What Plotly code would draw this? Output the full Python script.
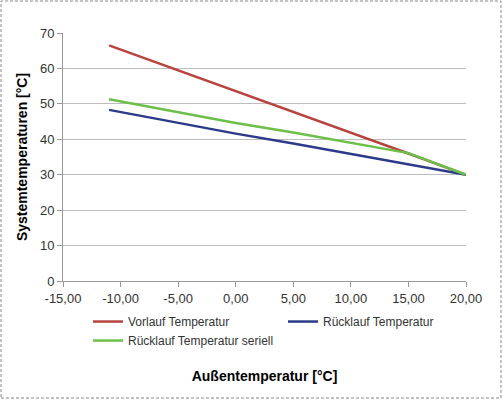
import plotly.graph_objects as go

aussen = [-11, -5, 0, 5, 10, 15, 20]
vorlauf = [66.5, 59.5, 53.6, 47.7, 41.9, 36.0, 30.0]
ruecklauf = [48.3, 44.6, 41.6, 38.8, 35.9, 33.0, 30.0]
ruecklauf_seriell = [51.3, 47.6, 44.6, 41.9, 39.0, 36.1, 30.0]

x_ticks = [-15, -10, -5, 0, 5, 10, 15, 20]
x_labels = ["-15,00", "-10,00", "-5,00", "0,00", "5,00", "10,00", "15,00", "20,00"]

fig = go.Figure()
fig.add_trace(go.Scatter(name="Vorlauf Temperatur", x=aussen, y=vorlauf, mode="lines",
                         line=dict(color="#b8443f", width=2.5)))
fig.add_trace(go.Scatter(name="Rücklauf Temperatur", x=aussen, y=ruecklauf, mode="lines",
                         line=dict(color="#2b3a8a", width=2.5)))
fig.add_trace(go.Scatter(name="Rücklauf Temperatur seriell", x=aussen, y=ruecklauf_seriell, mode="lines",
                         line=dict(color="#6cbf48", width=2.5)))

# plot area: 63..466 px horizontally, 33..281 px vertically
fig.update_layout(
    width=503, height=400,
    margin=dict(l=63, r=37, t=33, b=119),
    paper_bgcolor="white", plot_bgcolor="white",
    font=dict(family="Liberation Sans, Arial, sans-serif", size=13, color="#333"),
    showlegend=True,
    legend=dict(orientation="h", x=0.062, y=-0.105, xanchor="left", yanchor="top",
                entrywidth=150, entrywidthmode="pixels", traceorder="normal",
                font=dict(size=12, color="#333"), tracegroupgap=0),
    xaxis=dict(range=[-15, 20], tickvals=x_ticks, ticktext=x_labels, automargin=False,
               showgrid=False, zeroline=False, showline=True, linecolor="#999", linewidth=1,
               ticks="outside", ticklen=5, tickcolor="#999",
               title=dict(text="<b>Außentemperatur [°C]</b>", standoff=66,
                          font=dict(size=14, color="black"))),
    yaxis=dict(range=[0, 70], dtick=10, automargin=False,
               showgrid=True, gridcolor="#bdbdbd", gridwidth=1,
               zeroline=False, showline=True, linecolor="#999", linewidth=1,
               ticks="outside", ticklen=5, tickcolor="#999",
               title=dict(text="<b>Systemtemperaturen [°C]</b>", standoff=9,
                          font=dict(size=14, color="black"))),
    shapes=[dict(type="rect", xref="paper", yref="paper",
                 x0=-0.1538, x1=1.0868, y0=-0.4718, y1=1.129,
                 line=dict(color="#888", width=1, dash="3px,2px"))],
)

# page body has a default 8px margin; drop it so the chart sits at the corner
fig.write_html("out.html", config={"displayModeBar": False},
               post_script="document.body.style.margin='0';")
